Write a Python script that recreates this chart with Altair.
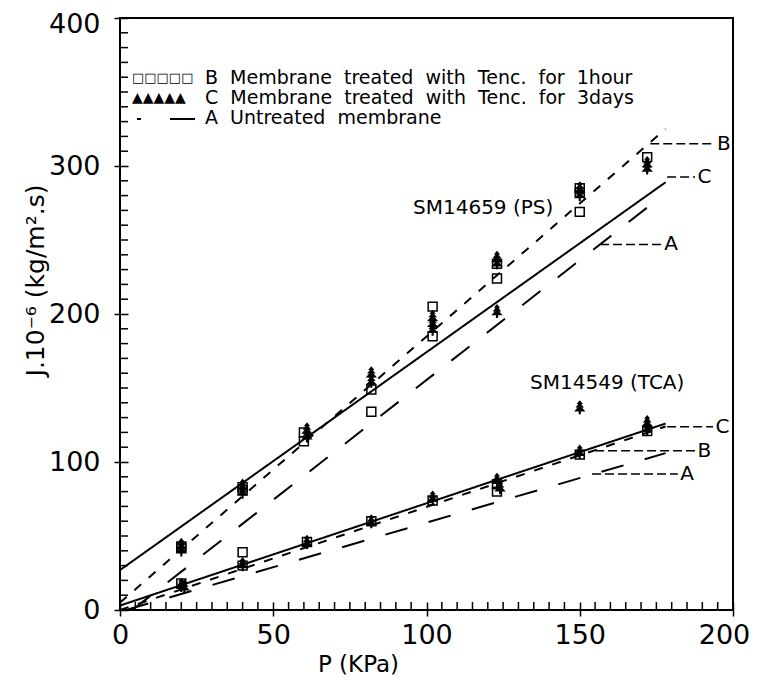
import altair as alt
import pandas as pd

# ---------------- data ----------------
# SM14659 (PS) membrane
ps_b_x = [20, 20, 40, 40, 60, 60, 82, 82, 102, 102, 123, 123, 150, 150, 150, 172]
ps_b_y = [43, 42, 83, 81, 120, 114, 149, 134, 205, 185, 234, 224, 285, 282, 269, 306]
ps_c_x = [20, 20, 40, 40, 61, 61, 82, 82, 102, 102, 102, 123, 123, 123, 150, 150, 172, 172]
ps_c_y = [44, 41, 84, 80, 122, 118, 160, 155, 198, 194, 190, 238, 235, 202, 285, 281, 302, 299]
# SM14549 (TCA) membrane
tca_b_x = [20, 40, 40, 61, 82, 102, 123, 123, 150, 172]
tca_b_y = [18, 39, 30, 46, 60, 74, 85, 80, 105, 121]
tca_c_x = [20, 21, 40, 61, 82, 102, 123, 124, 150, 150, 172, 172]
tca_c_y = [17, 16, 31, 46, 60, 76, 88, 83, 107, 137, 123, 127]

# fitted lines (end points)
line_names = ["PS B", "PS C", "PS A", "TCA C", "TCA B", "TCA A"]
line_kind = ["B", "C", "A", "C", "B", "A"]
line_x0 = [0, 0, 4, 0, 0, 2]
line_y0 = [5, 27, 0, 3, 0, 0]
line_x1 = [178, 178, 177, 178, 178, 178]
line_y1 = [325, 289, 280, 126, 124, 106]

# line-end labels with dashed leaders
lead_letter = ["B", "C", "A", "C", "B", "A"]
lead_y = [315, 292.6, 247, 123.9, 107.6, 91.9]
lead_x0 = [173, 178.5, 156.6, 178.5, 155, 154]
lead_x1 = [194, 187.6, 176.8, 193.5, 187.6, 182]
lead_tx = [194.8, 188.4, 177.6, 194.3, 188.4, 182.8]

# text annotations
ann_text = ["SM14659 (PS)", "SM14549 (TCA)"]
ann_x = [95.6, 133.8]
ann_y = [271.6, 153.4]

NB = "\u00a0"
legend_labels = [
    f"B {NB}Membrane {NB}treated {NB}with {NB}Tenc. {NB}for {NB}1hour",
    f"C {NB}Membrane {NB}treated {NB}with {NB}Tenc. {NB}for {NB}3days",
    f"A {NB}Untreated {NB}membrane",
]

x_major = list(range(0, 201, 50))
y_major = list(range(0, 401, 100))
x_minor = [v for v in range(0, 201, 5) if v % 50 != 0]
y_minor = [v for v in range(0, 401, 10) if v % 100 != 0]

# ---------------- build tables ----------------
FONT = "DejaVu Sans"
TREE = ("M0,-1 L0.45,-0.45 L0.2,-0.45 L0.6,0.05 L0.3,0.05 L0.8,0.6 L0.15,0.6 "
        "L0.15,1 L-0.15,1 L-0.15,0.6 L-0.8,0.6 L-0.3,0.05 L-0.6,0.05 L-0.2,-0.45 "
        "L-0.45,-0.45 Z")
W, H = 613, 592

b_pts = pd.DataFrame({"P": ps_b_x + tca_b_x, "J": ps_b_y + tca_b_y})
c_pts = pd.DataFrame({"P": ps_c_x + tca_c_x, "J": ps_c_y + tca_c_y})

rows = []
for n, k, a, b, c, d in zip(line_names, line_kind, line_x0, line_y0, line_x1, line_y1):
    rows.append({"name": n, "kind": k, "P": a, "J": b})
    rows.append({"name": n, "kind": k, "P": c, "J": d})
lines = pd.DataFrame(rows)

leads = pd.DataFrame({"letter": lead_letter, "y": lead_y, "x0": lead_x0,
                      "x1": lead_x1, "tx": lead_tx})
anns = pd.DataFrame({"t": ann_text, "x": ann_x, "y": ann_y})

xscale = alt.Scale(domain=[0, 200], nice=False)
yscale = alt.Scale(domain=[0, 400], nice=False)

xaxis = alt.Axis(
    values=x_major, grid=False, domain=False, offset=-8, tickSize=14,
    tickColor="black", tickWidth=1.5, labelFont=FONT, labelFontSize=27,
    labelColor="black", labelPadding=6, labelFlush=False, labelOverlap=False,
    labelOffset={"condition": {"test": "datum.value === 200", "value": -9}, "value": 0},
    title="P (KPa)", titleFont=FONT, titleFontSize=23, titleFontWeight="normal",
    titleColor="black", titleX=238, titleY=62, titleBaseline="middle",
    titleAlign="center",
)
yaxis = alt.Axis(
    values=y_major, grid=False, domain=False, offset=-8, tickSize=14,
    tickColor="black", tickWidth=1.5, labelFont=FONT, labelFontSize=27,
    labelColor="black", labelPadding=14, labelFlush=False, labelOverlap=False,
    labelOffset={"condition": {"test": "datum.value === 400", "value": 6}, "value": 0},
    title="J.10⁻⁶ (kg/m².s)", titleFont=FONT, titleFontSize=25,
    titleFontWeight="normal", titleColor="black", titleX=-93, titleY=262,
    titleBaseline="middle", titleAlign="center", titleAngle=-90,
)

line_layer = alt.Chart(lines).mark_line(color="black", strokeWidth=2).encode(
    x=alt.X("P:Q", scale=xscale, axis=xaxis),
    y=alt.Y("J:Q", scale=yscale, axis=yaxis),
    detail="name:N",
    strokeDash=alt.StrokeDash("kind:N", scale=alt.Scale(
        domain=["A", "B", "C"], range=[[23, 22], [9, 10], [1, 0]]), legend=None),
)

xminor_layer = alt.Chart(pd.DataFrame({"v": x_minor})).mark_rule(
    color="black", strokeWidth=1.5).encode(
    x="v:Q", y=alt.value(H), y2=alt.value(H - 8))
yminor_layer = alt.Chart(pd.DataFrame({"v": y_minor})).mark_rule(
    color="black", strokeWidth=1.5).encode(
    y="v:Q", x=alt.value(0), x2=alt.value(8))

b_layer = alt.Chart(b_pts).mark_point(shape="square", filled=False, color="black",
                                      strokeWidth=1.5, size=80, opacity=1).encode(
    x="P:Q", y="J:Q")
c_layer = alt.Chart(c_pts).mark_point(shape=TREE, filled=True, color="black",
                                      size=200, opacity=1).encode(
    x="P:Q", y="J:Q")

lead_layer = alt.Chart(leads).mark_rule(color="black", strokeWidth=1.5,
                                        strokeDash=[9, 4]).encode(
    x="x0:Q", x2="x1:Q", y="y:Q")
lead_text = alt.Chart(leads).mark_text(font=FONT, fontSize=20, align="left",
                                       baseline="middle", color="black").encode(
    x="tx:Q", y="y:Q", text="letter:N")

ann_layer = alt.Chart(anns).mark_text(font=FONT, fontSize=20, align="left",
                                      baseline="middle", color="black").encode(
    x="x:Q", y="y:Q", text="t:N")

# legend (drawn in pixel space of the plot area)
one = pd.DataFrame({"a": [0]})
leg = []
for lab, yy in zip(legend_labels, [60, 80, 100]):
    leg.append(alt.Chart(one).mark_text(font=FONT, fontSize=19, align="left",
                                        baseline="middle", color="black").encode(
        x=alt.value(85), y=alt.value(yy), text=alt.value(lab)))
leg.append(alt.Chart(one).mark_text(font=FONT, fontSize=13, align="left",
                                    baseline="middle", color="black").encode(
    x=alt.value(12), y=alt.value(60), text=alt.value("□□□□□")))
leg.append(alt.Chart(one).mark_text(font=FONT, fontSize=14, align="left",
                                    baseline="middle", color="black").encode(
    x=alt.value(12), y=alt.value(80), text=alt.value("▲▲▲▲▲")))
leg.append(alt.Chart(one).mark_rule(color="black", strokeWidth=2).encode(
    x=alt.value(17), x2=alt.value(21), y=alt.value(101)))
leg.append(alt.Chart(one).mark_rule(color="black", strokeWidth=2).encode(
    x=alt.value(50), x2=alt.value(75), y=alt.value(101)))

chart = alt.layer(line_layer, xminor_layer, yminor_layer, b_layer, c_layer,
                  lead_layer, lead_text, ann_layer, *leg).properties(
    width=W, height=H,
    autosize=alt.AutoSizeParams(type="none"),
    padding={"left": 112, "top": 10, "right": 17, "bottom": 67},
    background="white",
).configure_view(stroke="black", strokeWidth=2)

chart.save("out.html", embed_options={"renderer": "svg", "actions": False})
